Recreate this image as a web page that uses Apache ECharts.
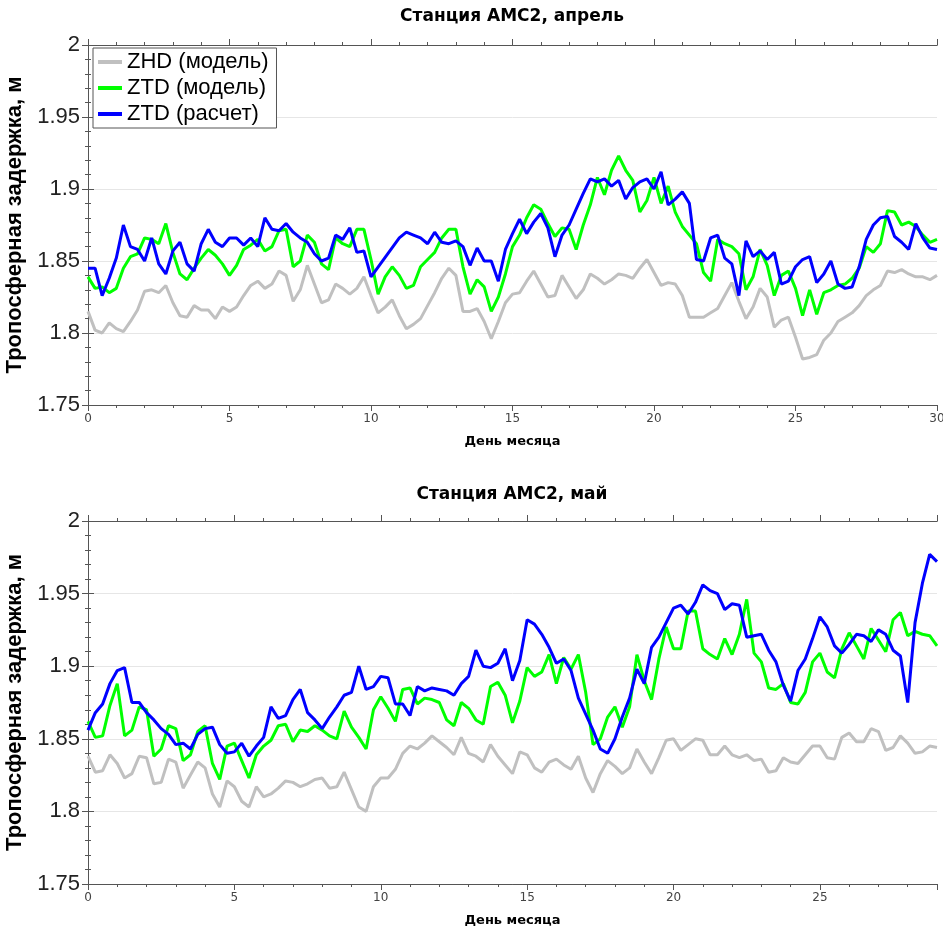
<!DOCTYPE html>
<html>
<head>
<meta charset="utf-8">
<script src="https://cdn.jsdelivr.net/npm/echarts@6/dist/echarts.min.js"></script>
<style>
  html, body { margin: 0; padding: 0; background: #fff; }
  #chart { width: 943px; height: 926px; }
</style>
</head>
<body>
<div id="chart"></div>
<script>
// sample times, every 6 hours
const aprDays = Array.from({ length: 121 }, (_, i) => i / 4)
const mayDays = Array.from({ length: 117 }, (_, i) => i / 4)

const seriesNames = ['ZHD (модель)', 'ZTD (модель)', 'ZTD (расчет)']
const panelTitles = ['Станция АМС2, апрель', 'Станция АМС2, май']

// апрель
const aprZhdModel = [
  1.815,1.802,1.800,1.807,1.803,1.801,1.808,1.816,1.829,1.830,1.828,1.833,1.821,1.812,1.811,1.819,1.816,1.816,1.810,1.818,1.815,1.818,1.826,1.833,1.836,1.831,1.834,1.843,1.840,1.822,1.830,
  1.847,1.834,1.821,1.823,1.834,1.831,1.827,1.831,1.839,1.826,1.814,1.818,1.823,1.812,1.803,1.806,1.810,1.819,1.828,1.838,1.845,1.840,1.815,1.815,1.817,1.808,1.796,1.808,1.821,
  1.827,1.828,1.836,1.843,1.834,1.825,1.826,1.840,1.832,1.824,1.830,1.841,1.838,1.834,1.837,1.841,1.840,1.838,1.845,1.851,1.842,1.833,1.835,1.834,1.826,1.811,1.811,1.811,1.814,1.817,
  1.826,1.835,1.822,1.810,1.818,1.831,1.825,1.804,1.809,1.811,1.797,1.782,1.783,1.785,1.795,1.800,1.808,1.811,1.814,1.819,1.826,1.830,1.833,1.843,1.842,1.844,1.841,1.839,1.839,1.837,1.840
]
const aprZtdModel = [
  1.839,1.831,1.832,1.828,1.831,1.845,1.853,1.855,1.866,1.865,1.862,1.876,1.856,1.841,1.837,1.845,1.852,1.858,1.854,1.848,1.840,1.847,1.858,1.861,1.865,1.857,1.860,1.871,1.872,1.846,1.850,
  1.868,1.863,1.848,1.844,1.866,1.862,1.860,1.872,1.872,1.851,1.827,1.839,1.846,1.840,1.831,1.833,1.846,1.851,1.856,1.866,1.872,1.872,1.846,1.827,1.837,1.832,1.815,1.825,1.841,
  1.860,1.868,1.880,1.889,1.886,1.876,1.867,1.873,1.872,1.858,1.875,1.889,1.908,1.896,1.913,1.923,1.913,1.906,1.884,1.892,1.908,1.890,1.902,1.884,1.874,1.868,1.862,1.842,1.836,1.865,
  1.862,1.860,1.855,1.830,1.839,1.858,1.847,1.826,1.840,1.843,1.831,1.812,1.830,1.813,1.828,1.830,1.833,1.834,1.838,1.845,1.860,1.856,1.862,1.885,1.884,1.875,1.877,1.874,1.868,1.863,1.865
]
// пропуск данных 10.25-10.75
const aprZtdCalc = [
  1.845,1.845,1.826,1.838,1.852,1.875,1.860,1.858,1.850,1.866,1.848,1.841,1.857,1.863,1.848,1.843,1.862,1.872,1.863,1.860,1.866,1.866,1.861,1.866,1.860,1.880,1.872,1.871,1.876,1.870,1.866,
  1.863,1.855,1.850,1.852,1.868,1.865,1.873,1.856,1.857,1.839,null,null,null,1.866,1.870,1.868,1.866,1.862,1.870,1.863,1.862,1.864,1.860,1.847,1.859,1.850,1.850,1.836,1.858,
  1.869,1.879,1.869,1.877,1.883,1.873,1.853,1.868,1.875,1.886,1.897,1.907,1.905,1.907,1.902,1.906,1.893,1.901,1.905,1.907,1.900,1.912,1.889,1.893,1.898,1.890,1.851,1.850,1.866,1.868,
  1.852,1.848,1.826,1.864,1.853,1.857,1.851,1.856,1.834,1.836,1.846,1.851,1.853,1.835,1.841,1.850,1.834,1.831,1.832,1.846,1.865,1.875,1.880,1.881,1.867,1.863,1.858,1.876,1.866,1.859,1.858
]

// май
const mayZhdModel = [
  1.838,1.827,1.828,1.839,1.833,1.823,1.826,1.838,1.837,1.819,1.820,1.836,1.834,1.816,1.825,1.834,1.830,1.812,1.803,1.821,1.817,1.807,1.803,1.817,1.810,1.812,1.816,1.821,1.820,1.817,
  1.819,1.822,1.823,1.816,1.817,1.827,1.815,1.803,1.800,1.817,1.823,1.823,1.829,1.840,1.845,1.843,1.847,1.852,1.848,1.844,1.839,1.851,1.840,1.838,1.834,1.846,1.838,1.832,
  1.826,1.841,1.839,1.830,1.827,1.834,1.836,1.832,1.829,1.838,1.823,1.813,1.826,1.835,1.831,1.826,1.830,1.843,1.834,1.826,1.837,1.849,1.850,1.842,1.846,1.850,1.849,1.839,
  1.839,1.845,1.839,1.837,1.839,1.835,1.836,1.827,1.828,1.837,1.834,1.833,1.839,1.845,1.845,1.837,1.836,1.851,1.854,1.848,1.848,1.857,1.855,1.842,1.844,1.852,1.847,1.840,1.841,1.845,1.844
]
const mayZtdModel = [
  1.862,1.851,1.852,1.873,1.888,1.852,1.856,1.872,1.870,1.838,1.843,1.859,1.857,1.835,1.839,1.855,1.859,1.833,1.822,1.845,1.847,1.835,1.823,1.839,1.845,1.849,1.859,1.860,1.848,1.856,
  1.855,1.859,1.856,1.852,1.850,1.869,1.858,1.851,1.843,1.870,1.879,1.871,1.862,1.884,1.885,1.874,1.878,1.877,1.875,1.863,1.859,1.875,1.871,1.863,1.860,1.886,1.889,1.880,
  1.861,1.876,1.899,1.893,1.896,1.908,1.888,1.906,1.898,1.908,1.882,1.846,1.850,1.865,1.872,1.858,1.872,1.908,1.890,1.877,1.905,1.927,1.912,1.912,1.938,1.938,1.912,1.908,
  1.905,1.919,1.908,1.922,1.946,1.909,1.903,1.885,1.884,1.888,1.875,1.874,1.882,1.903,1.909,1.896,1.892,1.912,1.923,1.914,1.905,1.926,1.918,1.910,1.932,1.937,1.921,1.924,1.922,1.921,1.914
]
const mayZtdCalc = [
  1.856,1.868,1.874,1.888,1.897,1.899,1.875,1.875,1.868,1.863,1.857,1.853,1.846,1.847,1.843,1.853,1.857,1.858,1.846,1.840,1.841,1.847,1.838,1.845,1.851,1.872,1.864,1.866,1.877,1.884,
  1.868,1.863,1.857,1.865,1.872,1.880,1.882,1.900,1.884,1.886,1.893,1.892,1.874,1.874,1.866,1.886,1.883,1.885,1.884,1.883,1.880,1.888,1.893,1.911,1.900,1.899,1.902,1.912,
  1.890,1.904,1.932,1.929,1.922,1.913,1.902,1.905,1.897,1.878,1.867,1.856,1.843,1.840,1.850,1.865,1.878,1.898,1.888,1.913,1.920,1.930,1.940,1.942,1.936,1.944,1.956,1.952,
  1.950,1.939,1.943,1.942,1.920,1.921,1.922,1.911,1.903,1.887,1.876,1.897,1.905,1.919,1.934,1.927,1.914,1.909,1.915,1.922,1.921,1.917,1.925,1.922,1.911,1.907,1.875,1.930,1.957,1.977,1.972
]

const colors = ['#c0c0c0', '#00ff00', '#0000ff']
const axisColor = '#555'

function pairs(days, vals) {
  return days.map((d, i) => [d, vals[i]])
}

// 4 x axes per grid: bottom major+labels, bottom minor, top major, top minor
function makeXAxes(gi, max) {
  const base = {
    type: 'value', gridIndex: gi, min: 0, max: max,
    axisLine: { lineStyle: { color: axisColor, width: 1 } },
    splitLine: { show: false }
  }
  return [
    Object.assign({}, base, {
      position: 'bottom', interval: 5,
      axisTick: { length: 6, lineStyle: { color: axisColor } },
      axisLabel: {
        margin: 8, color: '#444', fontFamily: 'DejaVu Sans', fontSize: 12,
        formatter: v => (v % 5 === 0 ? String(v) : '')
      },
      name: 'День месяца', nameLocation: 'middle', nameGap: 30,
      nameTextStyle: { fontFamily: 'DejaVu Sans', fontWeight: 'bold', fontSize: 13, color: '#000' }
    }),
    Object.assign({}, base, {
      position: 'bottom', interval: 1,
      axisTick: { length: 3, lineStyle: { color: axisColor } },
      axisLabel: { show: false }
    }),
    Object.assign({}, base, {
      position: 'top', interval: 5,
      axisTick: { length: 6, lineStyle: { color: axisColor } },
      axisLabel: { show: false }
    }),
    Object.assign({}, base, {
      position: 'top', interval: 1,
      axisTick: { length: 3, lineStyle: { color: axisColor } },
      axisLabel: { show: false }
    })
  ]
}

function makeYAxes(gi) {
  const base = {
    type: 'value', gridIndex: gi, min: 1.75, max: 2, interval: 0.05,
    axisLine: { show: true, lineStyle: { color: axisColor, width: 1 } },
    axisTick: { show: true, length: 6, lineStyle: { color: axisColor } },
    minorTick: { show: true, splitNumber: 5, length: 3, lineStyle: { color: axisColor } }
  }
  return [
    Object.assign({}, base, {
      position: 'left',
      axisLabel: { margin: 8, color: '#222', fontFamily: 'Liberation Sans', fontSize: 22 },
      splitLine: { show: true, lineStyle: { color: '#e6e6e6', width: 1 } },
      name: 'Тропосферная задержка, м', nameLocation: 'middle', nameGap: 57,
      nameTextStyle: { fontFamily: 'Liberation Sans', fontWeight: 'bold', fontSize: 22, color: '#000' }
    }),
    Object.assign({}, base, {
      position: 'right',
      axisLabel: { show: false },
      splitLine: { show: false }
    })
  ]
}

function makeSeries(gi, days, lists) {
  return lists.map((vals, k) => ({
    name: seriesNames[k],
    type: 'line',
    xAxisIndex: gi * 4,
    yAxisIndex: gi * 2,
    data: pairs(days, vals),
    showSymbol: false,
    connectNulls: true,
    lineStyle: { color: colors[k], width: 3 },
    itemStyle: { color: colors[k] },
    z: 2 + k
  }))
}

const chart = echarts.init(document.getElementById('chart'), null, { renderer: 'canvas' })

const titleStyle = { textAlign: 'center', textVerticalAlign: 'middle',
  fontFamily: 'DejaVu Sans', fontWeight: 'bold', fontSize: 17, fill: '#000' }

const option = {
  animation: false,
  backgroundColor: '#fff',
  grid: [
    { left: 88, top: 45, width: 849, height: 360, outerBoundsMode: 'none', containLabel: false },
    { left: 88, top: 521, width: 849, height: 363, outerBoundsMode: 'none', containLabel: false }
  ],
  graphic: [
    { type: 'text', x: 512, y: 17, style: Object.assign({ text: panelTitles[0] }, titleStyle) },
    { type: 'text', x: 512, y: 495, style: Object.assign({ text: panelTitles[1] }, titleStyle) }
  ],
  legend: {
    data: seriesNames,
    orient: 'vertical',
    left: 93, top: 48,
    backgroundColor: '#fff',
    borderColor: '#555', borderWidth: 1,
    padding: [3, 8, 3, 5],
    itemGap: 4,
    itemWidth: 24, itemHeight: 4,
    icon: 'rect',
    textStyle: { fontFamily: 'Liberation Sans', fontSize: 22, color: '#000' }
  },
  xAxis: makeXAxes(0, 30).concat(makeXAxes(1, 29)),
  yAxis: makeYAxes(0).concat(makeYAxes(1)),
  series: makeSeries(0, aprDays, [aprZhdModel, aprZtdModel, aprZtdCalc])
    .concat(makeSeries(1, mayDays, [mayZhdModel, mayZtdModel, mayZtdCalc]))
}

chart.setOption(option)
</script>
</body>
</html>
